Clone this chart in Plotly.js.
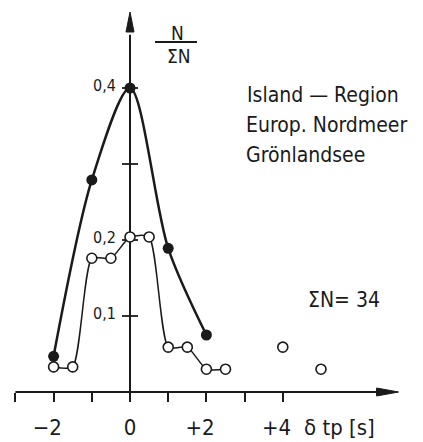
<!DOCTYPE html>
<html>
<head>
<meta charset="utf-8">
<script src="https://cdn.plot.ly/plotly-3.0.1.min.js"></script>
<style>
  html, body { margin: 0; padding: 0; background: #fff; }
  #chart { width: 423px; height: 442px; }
</style>
</head>
<body>
<div id="chart"></div>
<script>
// Relative frequency N/ΣN of travel-time residuals δtp, Iceland region
const filledX = [-2, -1, 0, 1, 2];
const filledY = [0.047, 0.279, 0.4, 0.189, 0.075];

const openX = [-2, -1.5, -1, -0.5, 0, 0.5, 1, 1.5, 2, 2.5];
const openY = [0.033, 0.033, 0.176, 0.176, 0.204, 0.204, 0.059, 0.059, 0.03, 0.03];

const looseX = [4, 5];
const looseY = [0.059, 0.03];

// signed labels carry trailing no-break spaces so the digit sits over its tick
const NB = '\u00a0\u00a0';
const xTickVals = [-3, -2, -1, 0, 1, 2, 3, 4];
const xTickText = ['', '−2' + NB, '', '0', '', '+2' + NB, '', '+4' + NB];

const yTickVals = [0.1, 0.2, 0.3, 0.4];
const yLabelVals = [0.4, 0.2, 0.1];
const yLabelText = ['0,4', '0,2', '0,1'];

// geometry of the drawing (pixels)
const W = 423, H = 442;
const X0 = 130, XU = 38.2;     // x = 0 position, px per unit
const Y0 = 392, YU = 760;      // y = 0 position, px per unit
const dx = p => p / XU;
const dy = p => p / YU;
const px = p => p / W;
const py = p => 1 - p / H;

const FONT = '"DejaVu Sans Condensed", "Liberation Sans Narrow", "DejaVu Sans", sans-serif';
const INK = '#1a1a1a';

const traces = [
  {
    x: filledX, y: filledY, mode: 'lines+markers', type: 'scatter',
    line: { shape: 'spline', smoothing: 0.85, color: INK, width: 2.5 },
    marker: { size: 11, color: INK },
    hoverinfo: 'skip'
  },
  {
    x: openX, y: openY, mode: 'lines+markers', type: 'scatter',
    line: { shape: 'spline', smoothing: 0.6, color: INK, width: 1.5 },
    marker: { size: 10, color: '#fff', line: { color: INK, width: 1.6 } },
    hoverinfo: 'skip'
  },
  {
    x: looseX, y: looseY, mode: 'markers', type: 'scatter',
    marker: { size: 10, color: '#fff', line: { color: INK, width: 1.6 } },
    hoverinfo: 'skip'
  }
];

const shapes = [
  // x axis with arrow
  { type: 'line', xref: 'x', yref: 'y', x0: -3.0, x1: 6.7, y0: 0, y1: 0, line: { color: INK, width: 2 }, layer: 'below' },
  { type: 'path', xref: 'x', yref: 'y',
    path: `M ${7.03},0 L ${7.03 - dx(22)},${dy(4)} L ${7.03 - dx(22)},${-dy(4)} Z`,
    fillcolor: INK, line: { color: INK, width: 1 } },
  // y axis with arrow
  { type: 'line', xref: 'x', yref: 'y', x0: 0, x1: 0, y0: -dy(4), y1: 0.47, line: { color: INK, width: 2 }, layer: 'below' },
  { type: 'path', xref: 'x', yref: 'y',
    path: `M 0,0.5 L ${-dx(4)},${0.5 - dy(20)} L ${dx(4)},${0.5 - dy(20)} Z`,
    fillcolor: INK, line: { color: INK, width: 1 } },
  // fraction bar of the y label
  { type: 'line', xref: 'paper', yref: 'paper', x0: px(155), x1: px(197), y0: py(42), y1: py(42), line: { color: INK, width: 2 } }
];
yTickVals.forEach(v => shapes.push({
  type: 'line', xref: 'x', yref: 'y', x0: -dx(8), x1: dx(8), y0: v, y1: v,
  line: { color: INK, width: 1.8 }, layer: 'below'
}));

const ann = (text, x, y, size, xanchor, extra) => Object.assign({
  text, x: px(x), y: py(y), xref: 'paper', yref: 'paper', showarrow: false,
  xanchor: xanchor || 'left', yanchor: 'middle', font: { family: FONT, size, color: INK }
}, extra || {});

const annotations = [
  ann('N', 177, 33, 19, 'center'),
  ann('ΣN', 179, 56, 19, 'center'),
  ann('Island — Region', 245, 95, 21),
  ann('Europ. Nordmeer', 244, 125, 21),
  ann('Grönlandsee', 244, 155, 21),
  ann('ΣN= 34', 306, 300, 21),
  ann('δ tp [s]', 302, 427, 22)
];
yLabelVals.forEach((v, i) => annotations.push({
  text: yLabelText[i], x: 0, y: v, xref: 'x', yref: 'y', showarrow: false,
  xanchor: 'right', yanchor: 'middle', xshift: -12, yshift: 3,
  font: { family: FONT, size: 16, color: INK }
}));

const layout = {
  width: W, height: H,
  margin: { l: 0, r: 0, t: 0, b: 0 },
  paper_bgcolor: '#fff', plot_bgcolor: '#fff',
  showlegend: false,
  xaxis: {
    range: [-X0 / XU, (W - X0) / XU],
    anchor: 'free', position: (H - Y0) / H,
    showgrid: false, zeroline: false, showline: false,
    ticks: 'outside', ticklen: 9, tickwidth: 2, tickcolor: INK,
    tickvals: xTickVals, ticktext: xTickText,
    ticklabelstandoff: 7,
    tickfont: { family: FONT, size: 22, color: INK }
  },
  yaxis: {
    range: [-(H - Y0) / YU, Y0 / YU],
    visible: false
  },
  shapes, annotations
};

Plotly.newPlot('chart', traces, layout, { staticPlot: true, displayModeBar: false });
</script>
</body>
</html>
